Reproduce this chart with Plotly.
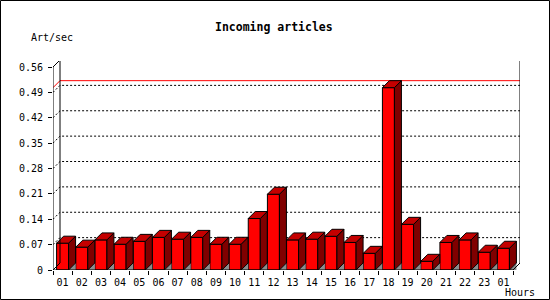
import plotly.graph_objects as go

# ---- data ----
hours = ['01', '02', '03', '04', '05', '06', '07', '08', '09', '10', '11', '12',
         '13', '14', '15', '16', '17', '18', '19', '20', '21', '22', '23', '01']
rates = [0.074, 0.063, 0.083, 0.071, 0.079, 0.090, 0.085, 0.090, 0.071, 0.071, 0.142, 0.209,
         0.083, 0.085, 0.093, 0.076, 0.046, 0.503, 0.126, 0.024, 0.076, 0.083, 0.049, 0.060]
limit_line = 0.503
y_tick_vals = [0, 0.07, 0.14, 0.21, 0.28, 0.35, 0.42, 0.49, 0.56]
y_tick_text = ['0', '0.07', '0.14', '0.21', '0.28', '0.35', '0.42', '0.49', '0.56']
y_max = 0.56

# ---- geometry ----
W, H = 550, 300
L, R, T, B = 53, 30, 61, 30
PW, PH = W - L - R, H - T - B
N = len(rates)
FRONT_W = 460.0            # width of front plane in px
FRONT_H = 203.0            # height of front plane in px
DEPTH = 7.0                # 3d depth in px
cat_px = FRONT_W / N
y_px = FRONT_H / y_max
DX = DEPTH / cat_px
DY = DEPTH / y_px
BW = 12.0 / cat_px
x_lo = -0.5
x_hi = x_lo + PW / cat_px
y_top = PH / y_px
x_end = N - 0.5

def pxx(px):
    return (px - L) / PW

def pxy(py):
    return (H - B - py) / PH

fig = go.Figure()

# floor shadows, side faces, top faces
gx, gy, sx, sy, tx, ty = [], [], [], [], [], []
for i, v in enumerate(rates):
    xl, xr = i - BW / 2, i + BW / 2
    gx += [xr, xr + DX, xr + DX, xr, None]
    gy += [0, DY, 0, 0, None]
    sx += [xr, xr + DX, xr + DX, xr, xr, None]
    sy += [0, DY, v + DY, v, 0, None]
    tx += [xl, xl + DX, xr + DX, xr, xl, None]
    ty += [v, v + DY, v + DY, v, v, None]

fig.add_trace(go.Scatter(x=gx, y=gy, mode='lines', fill='toself', fillcolor='#8c8c8c',
                         line=dict(width=0, color='#8c8c8c'), hoverinfo='skip', showlegend=False))
fig.add_trace(go.Scatter(x=sx, y=sy, mode='lines', fill='toself', fillcolor='#800000',
                         line=dict(width=1, color='black'), hoverinfo='skip', showlegend=False))
fig.add_trace(go.Scatter(x=tx, y=ty, mode='lines', fill='toself', fillcolor='#c40000',
                         line=dict(width=1, color='black'), hoverinfo='skip', showlegend=False))
fig.add_trace(go.Bar(x=list(range(N)), y=rates, width=BW, marker=dict(color='#ff0000',
                     line=dict(color='black', width=1)), showlegend=False))

shapes = []
# grid lines (dotted) on back plane with diagonal from front axis
for g in y_tick_vals[1:-1]:
    shapes.append(dict(type='path', xref='x', yref='y', layer='below',
                       path=f'M {x_lo},{g} L {x_lo + DX},{g + DY} L {x_end + DX},{g + DY}',
                       line=dict(color='black', width=1, dash='2px,2px')))
# limit line
shapes.append(dict(type='path', xref='x', yref='y', layer='below',
                   path=f'M {x_lo},{limit_line} L {x_lo + DX},{limit_line + DY} L {x_end + DX},{limit_line + DY}',
                   line=dict(color='red', width=1)))
# back plane frame
shapes.append(dict(type='path', xref='x', yref='y', layer='above',
                   path=f'M {x_lo + DX},{DY} L {x_lo + DX},{y_max + DY} L {x_end + DX},{y_max + DY} L {x_end + DX},{DY}',
                   line=dict(color='black', width=1)))
# front y axis
shapes.append(dict(type='path', xref='x', yref='y', layer='above',
                   path=f'M {x_lo},0 L {x_lo},{y_max} L {x_lo + DX},{y_max + DY}',
                   line=dict(color='black', width=1)))
# front x axis + floor edges
shapes.append(dict(type='path', xref='x', yref='y', layer='above',
                   path=f'M {x_lo + DX},{DY} L {x_lo},0 L {x_end},0 L {x_end + DX},{DY}',
                   line=dict(color='black', width=1)))
# outer border
shapes.append(dict(type='rect', xref='paper', yref='paper', layer='above',
                   x0=pxx(0.5), x1=pxx(W - 0.5), y0=pxy(H - 0.5), y1=pxy(0.5),
                   line=dict(color='black', width=1)))

mono = 'DejaVu Sans Mono'
annotations = [
    dict(text='<b>Incoming articles</b>', xref='paper', yref='paper', x=pxx(274), y=pxy(27),
         xanchor='center', yanchor='middle', showarrow=False, font=dict(family=mono, size=11.5, color='black')),
    dict(text='Art/sec', xref='paper', yref='paper', x=pxx(29), y=pxy(37.5),
         xanchor='left', yanchor='middle', showarrow=False, font=dict(family=mono, size=10, color='black')),
    dict(text='Hours', xref='paper', yref='paper', x=pxx(503), y=pxy(292.5),
         xanchor='left', yanchor='middle', showarrow=False, font=dict(family=mono, size=10, color='black')),
]

fig.update_layout(
    width=W, height=H, margin=dict(l=L, r=R, t=T, b=B, pad=0),
    paper_bgcolor='white', plot_bgcolor='white',
    shapes=shapes, annotations=annotations, showlegend=False,
    xaxis=dict(range=[x_lo, x_hi], tickmode='array', tickvals=list(range(N)), ticktext=hours,
               ticks='outside', ticklen=0, showgrid=False, zeroline=False, showline=False,
               ticklabelstandoff=3,
               tickfont=dict(family=mono, size=10, color='black'),
               minor=dict(tickmode='array', tickvals=[i - 0.5 for i in range(N + 1)],
                          ticks='outside', ticklen=4, tickcolor='black', tickwidth=1, showgrid=False)),
    yaxis=dict(range=[0, y_top], tickmode='array', tickvals=y_tick_vals, ticktext=y_tick_text,
               ticks='outside', ticklen=4, tickcolor='black', tickwidth=1,
               ticklabelstandoff=3,
               showgrid=False, zeroline=False, showline=False,
               tickfont=dict(family=mono, size=10, color='black')),
)

fig.write_html('out.html')
